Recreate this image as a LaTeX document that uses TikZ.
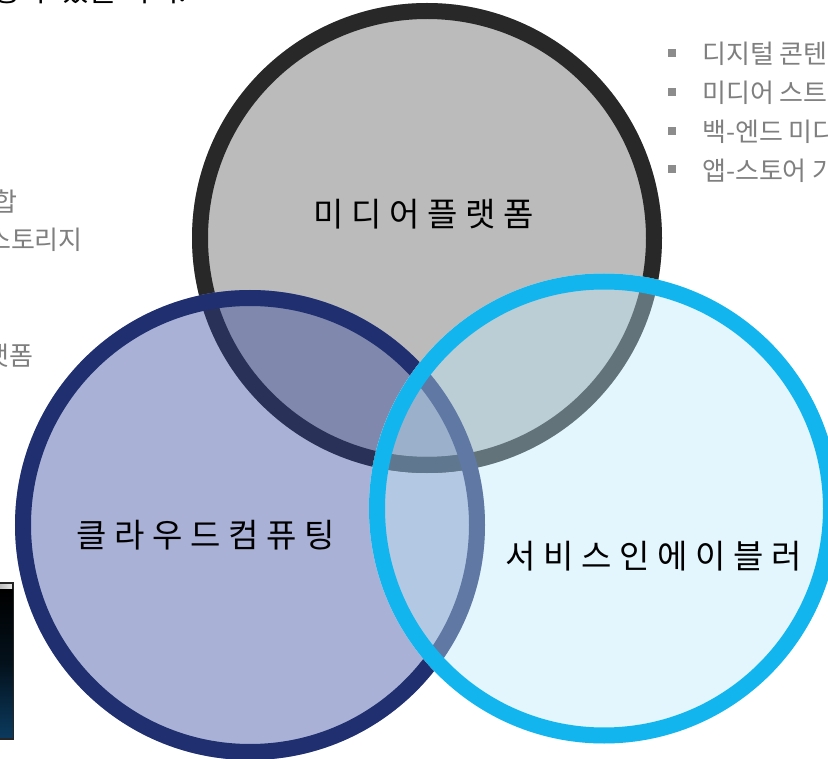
\documentclass[tikz,border=0pt]{standalone}
\usepackage{fontspec}
\setmainfont{Noto Sans CJK KR}
\newfontfamily\lblfont[LetterSpace=23]{Noto Sans CJK KR}
\definecolor{grayfill}{HTML}{BBBBBB}
\definecolor{darkring}{HTML}{282828}
\definecolor{navyfill}{HTML}{A9B2D6}
\definecolor{navyring}{HTML}{1F2F6F}
\definecolor{cyanfill}{HTML}{E3F5FD}
\definecolor{cyanring}{HTML}{12B5EE}
\definecolor{graynavy}{HTML}{8088AD}
\definecolor{darknavy}{HTML}{2A3158}
\definecolor{graycyan}{HTML}{BBCDD5}
\definecolor{navycyan}{HTML}{B3C9E3}
\definecolor{allthree}{HTML}{9AB0CB}
\definecolor{darkcyan}{HTML}{63737A}
\definecolor{darkboth}{HTML}{5F788F}
\definecolor{navyringcyan}{HTML}{5F78A4}
\definecolor{bodygray}{HTML}{7F7F7F}
\definecolor{picblue}{HTML}{0B3A5E}
\tikzset{
  lbl/.style={font=\lblfont\fontsize{33}{33}\selectfont, text=black, inner sep=0pt},
  bodytext/.style={font=\fontsize{26}{26}\selectfont, text=bodygray, inner sep=0pt, anchor=base west},
  bodyleft/.style={font=\fontsize{26}{26}\selectfont, text=bodygray, inner sep=0pt, anchor=base east},
  bulletbox/.style={fill=bodygray!90, minimum size=8pt, inner sep=0pt},
  ring/.style={line width=16pt, draw=#1, fill=none}
}
\newcommand{\discA}{(427,238) circle [radius=235]}
\newcommand{\discB}{(250,525) circle [radius=235]}
\newcommand{\discC}{(604,508.5) circle [radius=235]}
\newcommand{\ringA}{(427,238) circle [radius=227]}
\newcommand{\ringB}{(250,525) circle [radius=227]}
\newcommand{\ringC}{(604,508.5) circle [radius=227]}
\begin{document}
\begin{tikzpicture}[x=1pt,y=-1pt]
\useasboundingbox (0,0) rectangle (828,759);
\clip (0,0) rectangle (828,759);
\fill[white] (0,0) rectangle (828,759);
% top cut-off line
\node[font=\fontsize{30}{30}\selectfont, text=black, inner sep=0pt, anchor=base west] (toptext) at (-7,2) {응 수 있을 까지.};
% left fragments
\node[bodyleft] (lefta) at (18,212) {합};
\node[bodyleft] (leftb) at (83,250) {스토리지};
\node[bodyleft] (leftc) at (34,366) {랫폼};
% right list
\node[bulletbox] (ba) at (672,53) {};
\node[bulletbox] (bb) at (672,92) {};
\node[bulletbox] (bc) at (672,131) {};
\node[bulletbox] (bd) at (672,169) {};
\node[bodytext] (ra) at (702,64) {디지털 콘텐츠};
\node[bodytext] (rb) at (702,103) {미디어 스트리밍};
\node[bodytext] (rc) at (702,142) {백-엔드 미디어};
\node[bodytext] (rd) at (702,181) {앱-스토어 가};
% small picture
\fill[top color=black, bottom color=picblue, middle color=black!70!picblue] (0,590) rectangle (13,738);
\fill[black] (0,583) rectangle (13,592);
\fill[left color=black!25, right color=black!10] (0,584) rectangle (12,588);
\draw[black!85, line width=1.5pt] (-2,583) -- (13.5,583) -- (13.5,739) -- (-2,739);
% gray circle
\fill[grayfill] \discA;
\draw[ring=darkring] \ringA;
% navy circle
\fill[navyfill] \discB;
\begin{scope}
  \clip \discB;
  \fill[graynavy] \discA;
  \draw[ring=darknavy] \ringA;
\end{scope}
\draw[ring=navyring] \ringB;
% cyan circle
\begin{scope}
  \clip \discC;
  \fill[cyanfill] \discC;
  \fill[navycyan] \discB;
  \fill[graycyan] \discA;
  \begin{scope}
    \clip \discB;
    \fill[allthree] \discA;
  \end{scope}
  \draw[ring=darkcyan] \ringA;
  \begin{scope}
    \clip \discB;
    \draw[ring=darkboth] \ringA;
  \end{scope}
  \draw[ring=navyringcyan] \ringB;
\end{scope}
\draw[ring=cyanring] \ringC;
% labels
\node[lbl] (media) at (424,214) {미디어플랫폼};
\node[lbl] (cloud) at (206,535) {클라우드컴퓨팅};
\node[lbl] (enabler) at (653.5,556) {서비스인에이블러};
\end{tikzpicture}
\end{document}
